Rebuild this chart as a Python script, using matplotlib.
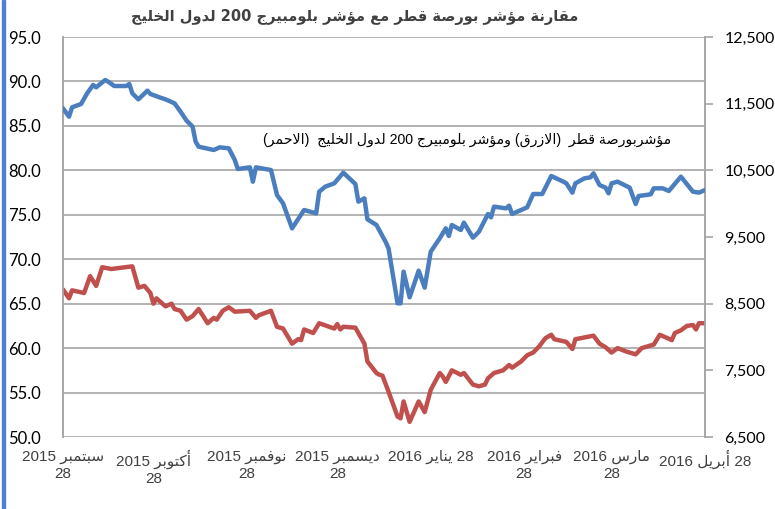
import matplotlib
matplotlib.use('Agg')
import matplotlib.pyplot as plt
from matplotlib.patches import Rectangle
from matplotlib.ticker import FuncFormatter
import pandas as pd

# ---------------- data ----------------
start_date = '2015-09-28'
end_date = '2016-04-28'

# Qatar exchange index (blue, right axis): days since start date, index level
blue_days = [0, 2, 3, 6, 8, 10, 11, 14, 15, 17, 21, 22, 23, 25, 28, 29, 32, 34, 37, 39,
             41, 43, 44, 45, 50, 52, 54, 55, 57, 58, 62, 63, 64, 69, 71, 73, 76, 80, 84, 85,
             87, 90, 93, 97, 98, 100, 101, 104, 107, 108, 111, 112, 113, 115, 118, 120, 122,
             125, 127, 128, 129, 132, 133, 136, 138, 141, 142, 143, 147, 148, 149, 154, 156,
             159, 162, 166, 167, 169, 170, 173, 175, 176, 178, 180, 181, 182, 184, 188, 190,
             191, 195, 196, 199, 201, 205, 209, 211, 213]
blue_vals = [11430, 11305, 11445, 11495, 11655, 11780, 11745, 11855, 11830, 11765, 11765,
             11795, 11655, 11565, 11695, 11645, 11595, 11565, 11505, 11380, 11245, 11155,
             10930, 10855, 10805, 10845, 10835, 10830, 10655, 10520, 10545, 10330, 10545,
             10505, 10130, 10005, 9630, 9905, 9855, 10180, 10255, 10305, 10465, 10295, 10030,
             10080, 9765, 9680, 9430, 9330, 8505, 8505, 8980, 8595, 8995, 8740, 9280, 9480,
             9630, 9515, 9680, 9605, 9715, 9490, 9580, 9845, 9795, 9955, 9930, 9970, 9845,
             9945, 10145, 10145, 10415, 10330, 10305, 10165, 10305, 10380, 10395, 10455,
             10280, 10240, 10155, 10305, 10330, 10240, 9995, 10115, 10140, 10230, 10230,
             10190, 10405, 10180, 10165, 10205]

# Bloomberg GCC 200 index (red, left axis)
red_days = [0, 2, 3, 7, 9, 11, 13, 16, 23, 25, 27, 29, 30, 31, 34, 36, 37, 39, 41, 43, 45,
            48, 50, 51, 53, 55, 57, 62, 64, 65, 69, 71, 73, 76, 78, 79, 80, 83, 85, 90, 91,
            92, 93, 97, 100, 101, 104, 105, 106, 108, 111, 112, 113, 115, 118, 120, 122, 125,
            126, 127, 129, 132, 133, 136, 138, 140, 141, 143, 146, 148, 149, 152, 154, 156,
            158, 160, 162, 163, 167, 169, 170, 173, 176, 178, 180, 182, 184, 187, 190, 192,
            196, 198, 202, 203, 205, 207, 209, 210, 211, 213]
red_vals = [66.6, 65.6, 66.5, 66.2, 68.1, 67.0, 69.1, 68.9, 69.2, 66.8, 67.0, 66.2, 65.0,
            65.6, 64.7, 65.0, 64.4, 64.2, 63.2, 63.6, 64.4, 62.8, 63.4, 63.2, 64.2, 64.6,
            64.1, 64.2, 63.4, 63.7, 64.2, 62.4, 62.2, 60.5, 61.0, 60.9, 62.1, 61.7, 62.8,
            62.2, 62.7, 62.1, 62.4, 62.3, 60.5, 58.5, 57.2, 57.0, 56.9, 55.1, 52.3, 52.1,
            54.0, 51.7, 54.0, 52.8, 55.3, 57.2, 56.8, 56.2, 57.5, 57.0, 57.2, 55.9, 55.7,
            55.9, 56.6, 57.2, 57.5, 58.1, 57.8, 58.5, 59.2, 59.5, 60.2, 61.1, 61.5, 61.0,
            60.7, 59.9, 61.0, 61.2, 61.4, 60.5, 60.1, 59.5, 60.0, 59.6, 59.3, 60.0, 60.4,
            61.5, 60.9, 61.7, 62.0, 62.5, 62.6, 62.1, 62.8, 62.8]

tick_dates = ['2015-09-28', '2015-10-28', '2015-11-28', '2015-12-28',
              '2016-01-28', '2016-02-28', '2016-03-28', '2016-04-28']
tick_labels = ['2015 سبتمبر\n28', '2015 أكتوبر\n28', '2015 نوفمبر\n28', '2015 ديسمبر\n28',
               '2016 يناير 28', '2016 فبراير\n28', '2016 مارس\n28', '2016 أبريل 28']
left_ticks = [50, 55, 60, 65, 70, 75, 80, 85, 90, 95]
right_ticks = [6500, 7500, 8500, 9500, 10500, 11500, 12500]

title_text = 'مقارنة مؤشر بورصة قطر مع مؤشر بلومبيرج 200 لدول الخليج'
note_text = 'مؤشربورصة قطر  (الازرق) ومؤشر بلومبيرج 200 لدول الخليج  (الاحمر)'

# ---------------- minimal Arabic shaping ----------------
FORMS = {
    'ء': (0xFE80, 1), 'آ': (0xFE81, 2), 'أ': (0xFE83, 2), 'ؤ': (0xFE85, 2),
    'إ': (0xFE87, 2), 'ئ': (0xFE89, 4), 'ا': (0xFE8D, 2), 'ب': (0xFE8F, 4),
    'ة': (0xFE93, 2), 'ت': (0xFE95, 4), 'ث': (0xFE99, 4), 'ج': (0xFE9D, 4),
    'ح': (0xFEA1, 4), 'خ': (0xFEA5, 4), 'د': (0xFEA9, 2), 'ذ': (0xFEAB, 2),
    'ر': (0xFEAD, 2), 'ز': (0xFEAF, 2), 'س': (0xFEB1, 4), 'ش': (0xFEB5, 4),
    'ص': (0xFEB9, 4), 'ض': (0xFEBD, 4), 'ط': (0xFEC1, 4), 'ظ': (0xFEC5, 4),
    'ع': (0xFEC9, 4), 'غ': (0xFECD, 4), 'ف': (0xFED1, 4), 'ق': (0xFED5, 4),
    'ك': (0xFED9, 4), 'ل': (0xFEDD, 4), 'م': (0xFEE1, 4), 'ن': (0xFEE5, 4),
    'ه': (0xFEE9, 4), 'و': (0xFEED, 2), 'ى': (0xFEEF, 2), 'ي': (0xFEF1, 4),
}
LAM_ALEF = {'آ': 0xFEF5, 'أ': 0xFEF7, 'إ': 0xFEF9, 'ا': 0xFEFB}
MIRROR = {'(': ')', ')': '(', '[': ']', ']': '['}


def is_arabic(s):
    return any('\u0600' <= c <= '\u06FF' for c in s)


def shape_word(word):
    units = []
    i = 0
    while i < len(word):
        c = word[i]
        if c == 'ل' and i + 1 < len(word) and word[i + 1] in LAM_ALEF:
            units.append((LAM_ALEF[word[i + 1]], 2))
            i += 2
            continue
        if c in FORMS:
            units.append(FORMS[c])
        else:
            units.append((c, 0))
        i += 1
    out = []
    for k, (base, n) in enumerate(units):
        if n == 0:
            out.append(base)
            continue
        jp = k > 0 and units[k - 1][1] == 4 and n >= 2
        jn = n == 4 and k + 1 < len(units) and units[k + 1][1] >= 2
        if jp and jn:
            cp = base + 3
        elif jp:
            cp = base + 1
        elif jn:
            cp = base + 2
        else:
            cp = base
        out.append(chr(cp))
    return out


def visual(text, rtl):
    lines = []
    for line in text.split('\n'):
        toks = line.split(' ')
        if rtl:
            toks = toks[::-1]
        res = []
        for t in toks:
            if is_arabic(t):
                chars = shape_word(t)[::-1]
                res.append(''.join(MIRROR.get(c, c) for c in chars))
            else:
                res.append(t)
        lines.append(' '.join(res))
    return '\n'.join(lines)


# ---------------- figure ----------------
W, H = 775, 509
fig = plt.figure(figsize=(W / 100, H / 100), dpi=100)
ax = fig.add_axes([63 / W, 1 - 437 / H, (705 - 63) / W, 400 / H])
ax2 = ax.twinx()

start = pd.Timestamp(start_date)
red_x = start + pd.to_timedelta(red_days, unit='D')
blue_x = start + pd.to_timedelta(blue_days, unit='D')

ax.plot(red_x, red_vals, color='#C0504D', lw=3.2, solid_joinstyle='round',
        solid_capstyle='round', zorder=3)
ax2.plot(blue_x, blue_vals, color='#4A7EBF', lw=3.2, solid_joinstyle='round',
         solid_capstyle='round', zorder=3)

ax.set_xlim(start, pd.Timestamp(end_date))
ax.set_ylim(50, 95)
ax2.set_ylim(6500, 12500)

grid_c = '#A6A6A6'
ax.set_yticks(left_ticks)
ax.yaxis.set_major_formatter(FuncFormatter(lambda v, p: f'{v:.1f}'))
ax.grid(axis='y', color=grid_c, lw=1.2)
ax.set_axisbelow(True)
ax.tick_params(axis='y', length=0, pad=16, labelsize=12, labelcolor='#000000')
for lab in ax.get_yticklabels():
    lab.set_fontfamily(['Lato', 'DejaVu Sans'])

ax2.set_yticks(right_ticks)
ax2.yaxis.set_major_formatter(FuncFormatter(lambda v, p: f'{int(v):,}'))
ax2.tick_params(axis='y', length=6, width=1.2, color=grid_c, pad=8, labelsize=11.5,
                labelcolor='#000000')
for lab in ax2.get_yticklabels():
    lab.set_fontfamily(['Lato', 'DejaVu Sans'])

ax.set_xticks(pd.to_datetime(tick_dates))
ax.set_xticklabels([visual(t, rtl=False) for t in tick_labels],
                   family=['Liberation Sans', 'DejaVu Sans'], fontsize=11,
                   color='#404040', linespacing=1.3)
ax.tick_params(axis='x', length=0, pad=9)

for a in (ax, ax2):
    for s in ('top', 'bottom'):
        a.spines[s].set_visible(False)
    a.spines['left'].set_color(grid_c)
    a.spines['right'].set_color(grid_c)
    a.spines['left'].set_linewidth(1.2)
    a.spines['right'].set_linewidth(1.2)

fig.text(355 / W, 1 - 17 / H, visual(title_text, rtl=True), ha='center', va='center',
         fontsize=10.5, fontweight='bold', color='#404040',
         family=['DejaVu Sans'])
fig.text(467 / W, 1 - 140 / H, visual(note_text, rtl=True), ha='center', va='center',
         fontsize=10.2, color='#000000', family=['Liberation Sans', 'DejaVu Sans'])

fig.patches.append(Rectangle((2 / W, 0), 3 / W, 1, transform=fig.transFigure,
                             color='#4F81D0', zorder=0))

fig.savefig('out.png', dpi=100)
